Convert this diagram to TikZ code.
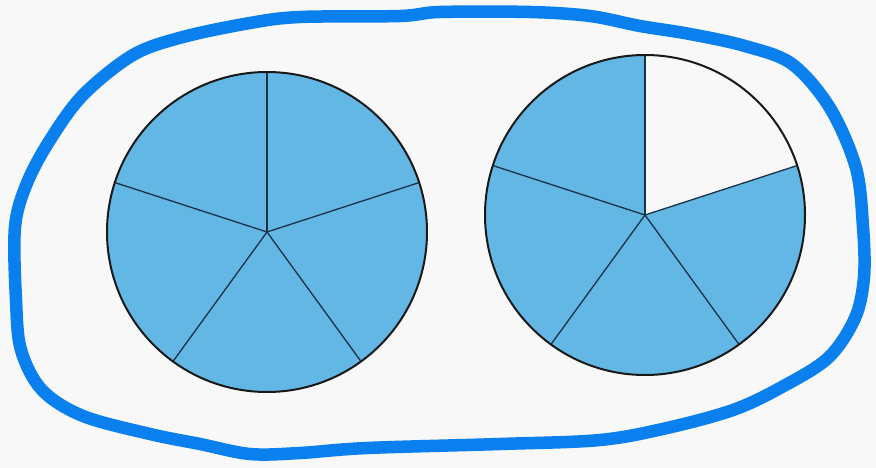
\documentclass[tikz,border=0pt]{standalone}
\usetikzlibrary{calc}
\definecolor{bg}{RGB}{248,248,248}
\definecolor{loopblue}{RGB}{10,127,238}
\definecolor{piefill}{RGB}{99,183,229}
\definecolor{spoke}{RGB}{25,50,70}
\tikzset{
  loopline/.style={draw=loopblue,line width=12.5pt,line cap=round,line join=round},
  rim/.style={draw=black!90,line width=2pt},
  spokeline/.style={draw=spoke,line width=1.3pt},
  sector/.style={fill=piefill},
}
\begin{document}
\begin{tikzpicture}[x=1pt,y=-1pt]
\fill[bg] (0,0) rectangle (876,468);
\useasboundingbox (0,0) rectangle (876,468);
% hand-drawn loop
\draw[loopline] plot[smooth cycle,tension=0.55] coordinates {
(300,17) (400,16) (440,12) (530,12) (590,16) (640,26) (690,34) (745,46) (792,64)
(830,108) (856,168) (863,227) (864,277) (855,318) (828,358) (780,388) (733,410)
(667,428) (600,440) (500,444) (367,448) (300,453) (250,454) (200,444) (150,434)
(83,416) (42,390) (21,350) (16,300) (15,227) (27,183) (50,140) (83,95) (133,55)
(183,37) (250,23)};
% left pie
\coordinate (L) at (267,232);
\fill[sector] (L) circle[radius=160];
\foreach \a in {90,18,-54,-126,162}{
  \draw[spokeline] (L) -- ($(L)+(\a:160 and -160)$);
}
\draw[rim] (L) circle[radius=160];
% right pie
\coordinate (R) at (645,215);
\fill[sector] (R) circle[radius=160];
\fill[bg] (R) -- ($(R)+(18:160 and -160)$) arc[start angle=-18,end angle=-90,radius=160] -- cycle;
\foreach \a in {90,18,-54,-126,162}{
  \draw[spokeline] (R) -- ($(R)+(\a:160 and -160)$);
}
\draw[rim] (R) circle[radius=160];
\end{tikzpicture}
\end{document}
